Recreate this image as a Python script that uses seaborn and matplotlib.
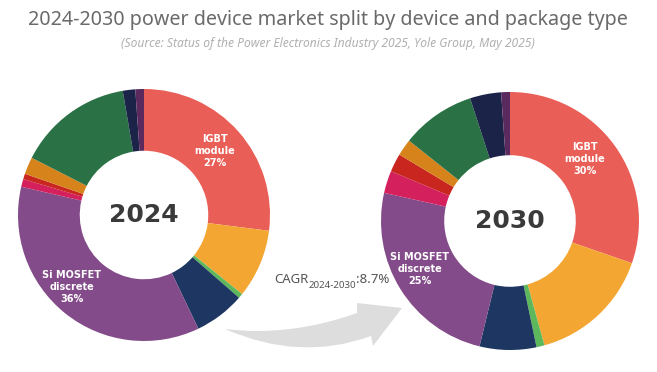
import matplotlib
matplotlib.use("Agg")
import matplotlib.pyplot as plt
import seaborn as sns
from matplotlib.patches import PathPatch
from matplotlib.path import Path

sns.set_theme(style="white")
plt.rcParams['font.family'] = ['Noto Sans', 'DejaVu Sans']
BOLD_FAMILY = ['DejaVu Sans']

# ---- data ----
segments = ["IGBT module", "IGBT discrete", "SiC module", "SiC discrete",
            "Si MOSFET discrete", "GaN", "Si MOSFET module", "Thyristor",
            "Bipolar", "Diode module", "Other"]
share_2024 = [27.0, 8.8, 0.6, 6.5, 35.7, 1.0, 0.7, 2.2, 14.8, 1.6, 1.1]
share_2030 = [30.3, 15.4, 1.0, 7.1, 24.7, 2.8, 2.3, 2.1, 9.3, 3.9, 1.1]
years = ["2024", "2030"]
label_igbt = ["IGBT\nmodule\n27%", "IGBT\nmodule\n30%"]
label_mos = ["Si MOSFET\ndiscrete\n36%", "Si MOSFET\ndiscrete\n25%"]
colors = ["#E95F57", "#F4A632", "#5DB85B", "#1D3762", "#834B89", "#D4215E",
          "#C8261E", "#D6831B", "#2A7245", "#1B2349", "#5A2A5E"]
palette = sns.color_palette(colors)

W, H = 657, 372
fig = plt.figure(figsize=(W / 100, H / 100), dpi=100)
fig.patch.set_facecolor("white")

# background axis in pixel coordinates for decorations and text
bg = fig.add_axes([0, 0, 1, 1])
bg.set_xlim(0, W)
bg.set_ylim(H, 0)
bg.axis("off")

# title
bg.text(328, 20, "2024-2030 power device market split by device and package type",
        ha="center", va="center", fontsize=14.2, color="#6a6a6a")
bg.text(328, 44, "(Source: Status of the Power Electronics Industry 2025, Yole Group, May 2025)",
        ha="center", va="center", fontsize=8.7, color="#b0b0b0", style="italic")

# swoosh arrow (decoration)
verts = [(225, 329),
         (290, 337), (357, 313),          # upper edge (quadratic)
         (357, 303), (402, 308), (373, 346), (371, 336),
         (300, 362), (225, 329),          # lower edge (quadratic)
         (225, 329)]
codes = [Path.MOVETO, Path.CURVE3, Path.CURVE3,
         Path.LINETO, Path.LINETO, Path.LINETO, Path.LINETO,
         Path.CURVE3, Path.CURVE3, Path.CLOSEPOLY]
bg.add_patch(PathPatch(Path(verts, codes), facecolor="#dddddd", edgecolor="none"))

# CAGR text
t1 = bg.text(274, 283, "CAGR", ha="left", va="baseline", fontsize=9.5, color="#555555")
t2 = bg.annotate("2024-2030", xy=(1, 0), xycoords=t1, xytext=(0, -3),
                 textcoords="offset points", ha="left", va="bottom",
                 fontsize=7, color="#555555")
t3 = bg.annotate(":8.7%", xy=(1, 0), xycoords=t2, xytext=(0, 3),
                 textcoords="offset points", ha="left", va="bottom",
                 fontsize=9.5, color="#555555")

def donut(cx, cy, r, values, year, lab1, lab1_pos, lab2, lab2_pos):
    ax = fig.add_axes([(cx - r) / W, (H - cy - r) / H, 2 * r / W, 2 * r / H])
    ax.pie(values, colors=palette, startangle=90, counterclock=False,
           radius=1.0, wedgeprops=dict(width=0.49, linewidth=0))
    ax.set_xlim(-1, 1)
    ax.set_ylim(-1, 1)
    ax.axis("off")
    ax.text(0, 0, year, ha="center", va="center", fontsize=18,
            fontweight="bold", color="#3a3a3a", family=BOLD_FAMILY)
    for lab, (px, py) in ((lab1, lab1_pos), (lab2, lab2_pos)):
        ax.text((px - cx) / r, -(py - cy) / r, lab, ha="center", va="center",
                fontsize=7, fontweight="bold", color="white", linespacing=1.3,
                family=BOLD_FAMILY)
    return ax

donut(144, 215, 126, share_2024, years[0], label_igbt[0], (215, 151),
      label_mos[0], (72, 287))
donut(510, 221, 129, share_2030, years[1], label_igbt[1], (585, 159),
      label_mos[1], (420, 269))

fig.savefig("out.png", dpi=100, facecolor="white")
